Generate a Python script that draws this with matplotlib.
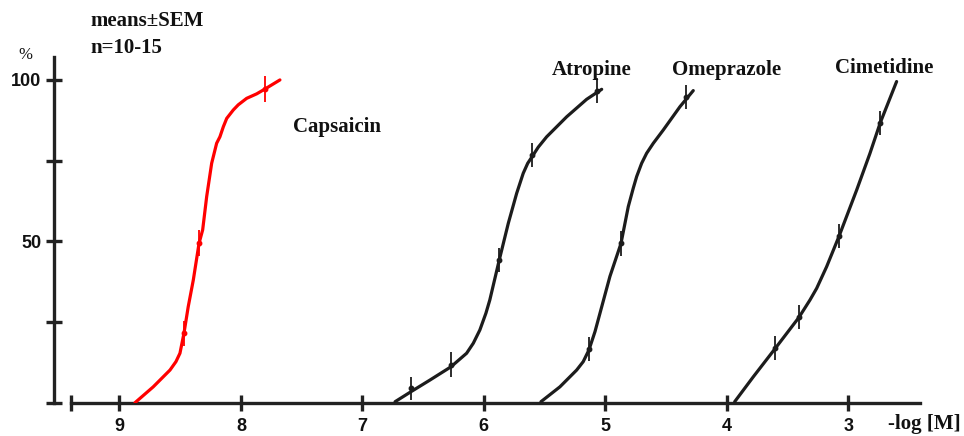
import matplotlib
matplotlib.use("Agg")
import matplotlib.pyplot as plt

# ---- data ----
# fitted curves (traced points): x = -log[M], y = % response
caps_curve_x = [8.872, 8.722, 8.653, 8.584, 8.535, 8.502, 8.469, 8.434, 8.392, 8.345, 8.315, 8.282, 8.241, 8.200, 8.173, 8.145, 8.117, 8.063, 8.022, 7.953, 7.870, 7.802, 7.679]
caps_curve_y = [0.1, 5.0, 7.6, 10.2, 12.8, 15.4, 21.6, 29.8, 38.1, 49.4, 53.6, 63.9, 74.2, 80.4, 82.4, 85.5, 88.1, 90.7, 92.3, 94.3, 95.7, 97.2, 100.0]
atro_curve_x = [6.731, 6.600, 6.444, 6.271, 6.142, 6.087, 6.033, 5.983, 5.951, 5.873, 5.799, 5.730, 5.703, 5.676, 5.639, 5.602, 5.552, 5.483, 5.318, 5.154, 5.030]
atro_curve_y = [0.4, 3.5, 7.1, 11.2, 15.4, 18.5, 22.6, 27.8, 31.9, 44.3, 55.6, 64.9, 68.0, 71.1, 74.2, 76.3, 79.2, 82.4, 88.6, 94.0, 97.1]
omep_curve_x = [5.530, 5.374, 5.236, 5.182, 5.135, 5.085, 5.044, 4.962, 4.871, 4.811, 4.770, 4.742, 4.701, 4.660, 4.605, 4.523, 4.386, 4.276]
omep_curve_y = [0.4, 5.0, 10.2, 12.8, 16.4, 22.1, 27.8, 39.2, 49.4, 60.8, 66.5, 70.1, 74.2, 77.3, 80.4, 84.5, 91.7, 96.7]
cime_curve_x = [3.935, 3.782, 3.601, 3.406, 3.315, 3.260, 3.178, 3.074, 2.931, 2.822, 2.737, 2.602]
cime_curve_y = [0.4, 8.1, 16.9, 26.5, 31.9, 35.5, 42.2, 51.8, 65.9, 77.2, 86.7, 99.5]

# means +- SEM
caps_x = [8.469, 8.345, 7.802]
caps_y = [21.6, 49.4, 97.2]
caps_err = [3.9, 4.0, 4.0]
atro_x = [6.600, 6.271, 5.873, 5.602, 5.067]
atro_y = [4.6, 11.8, 44.3, 76.8, 96.7]
atro_err = [3.6, 3.9, 3.8, 3.8, 3.9]
omep_x = [5.135, 4.871, 4.337]
omep_y = [16.6, 49.4, 94.8]
omep_err = [3.7, 3.8, 3.7]
cime_x = [3.601, 3.406, 3.074, 2.737]
cime_y = [16.9, 26.5, 51.8, 86.7]
cime_err = [3.7, 3.7, 3.7, 3.7]

x_ticks = [9, 8, 7, 6, 5, 4, 3]
x_tick_labels = ["9", "8", "7", "6", "5", "4", "3"]
y_ticks = [0, 25, 50, 75, 100]
y_tick_labels = ["", "", "50", "", "100"]

W, H = 964, 436
fig = plt.figure(figsize=(W / 100, H / 100), dpi=100)
fig.patch.set_facecolor("white")

def fx(px):
    return px / W

def fy(py):
    return 1 - py / H

ax = fig.add_axes([fx(54), fy(403), (930 - 54) / W, (403 - 57) / H])
ax.set_xlim(9.539, 2.327)
ax.set_ylim(0, 107.1)
ax.patch.set_alpha(0)

axis_col = "#222222"
for s in ["top", "right"]:
    ax.spines[s].set_visible(False)
ax.spines["left"].set_bounds(0, 107.1)
ax.spines["bottom"].set_bounds(2.41, 9.40)
for s in ["left", "bottom"]:
    ax.spines[s].set_linewidth(2.4)
    ax.spines[s].set_color(axis_col)

ax.set_xticks([9.40] + x_ticks)
ax.set_xticklabels([""] + x_tick_labels)
ax.set_yticks(y_ticks)
ax.set_yticklabels(y_tick_labels)
ax.tick_params(axis="both", direction="inout", length=12, width=2.4, color=axis_col)
ax.tick_params(axis="x", pad=4.5)
ax.tick_params(axis="y", pad=3)
for lab in ax.get_xticklabels() + ax.get_yticklabels():
    lab.set_fontfamily("Liberation Sans")
    lab.set_fontweight("bold")
    lab.set_fontsize(13)
    lab.set_color("#111111")

curve_col = "#1c1c1c"
red = "#ff0000"
lw = 2.3
ax.plot(caps_curve_x, caps_curve_y, color=red, lw=lw, solid_capstyle="round", solid_joinstyle="round", zorder=3)
ax.plot(atro_curve_x, atro_curve_y, color=curve_col, lw=lw, solid_capstyle="round", solid_joinstyle="round", zorder=3)
ax.plot(omep_curve_x, omep_curve_y, color=curve_col, lw=lw, solid_capstyle="round", solid_joinstyle="round", zorder=3)
ax.plot(cime_curve_x, cime_curve_y, color=curve_col, lw=lw, solid_capstyle="round", solid_joinstyle="round", zorder=3)

for xs, ys, es, c in [(caps_x, caps_y, caps_err, red),
                      (atro_x, atro_y, atro_err, curve_col),
                      (omep_x, omep_y, omep_err, curve_col),
                      (cime_x, cime_y, cime_err, curve_col)]:
    ax.errorbar(xs, ys, yerr=es, fmt="o", ms=3.2, color=c, ecolor=c,
                elinewidth=1.3, capsize=0, zorder=4)

serif = "Liberation Serif"
tkw = dict(fontfamily=serif, fontweight="bold", fontsize=15, color="#111111")
fig.text(fx(293), fy(127), "Capsaicin", ha="left", va="center", **tkw)
fig.text(fx(552), fy(70), "Atropine", ha="left", va="center", **tkw)
fig.text(fx(672), fy(70), "Omeprazole", ha="left", va="center", **tkw)
fig.text(fx(835), fy(68), "Cimetidine", ha="left", va="center", **tkw)
fig.text(fx(90), fy(21), "means\u00b1SEM", ha="left", va="center", **tkw)
fig.text(fx(90), fy(48), "n=10-15", ha="left", va="center", **tkw)
fig.text(fx(888), fy(424), "-log [M]", ha="left", va="center", **tkw)
fig.text(fx(25), fy(55), "%", ha="center", va="center", fontfamily=serif,
         fontsize=12, color="#111111")

fig.savefig("out.png", dpi=100, facecolor="white")
